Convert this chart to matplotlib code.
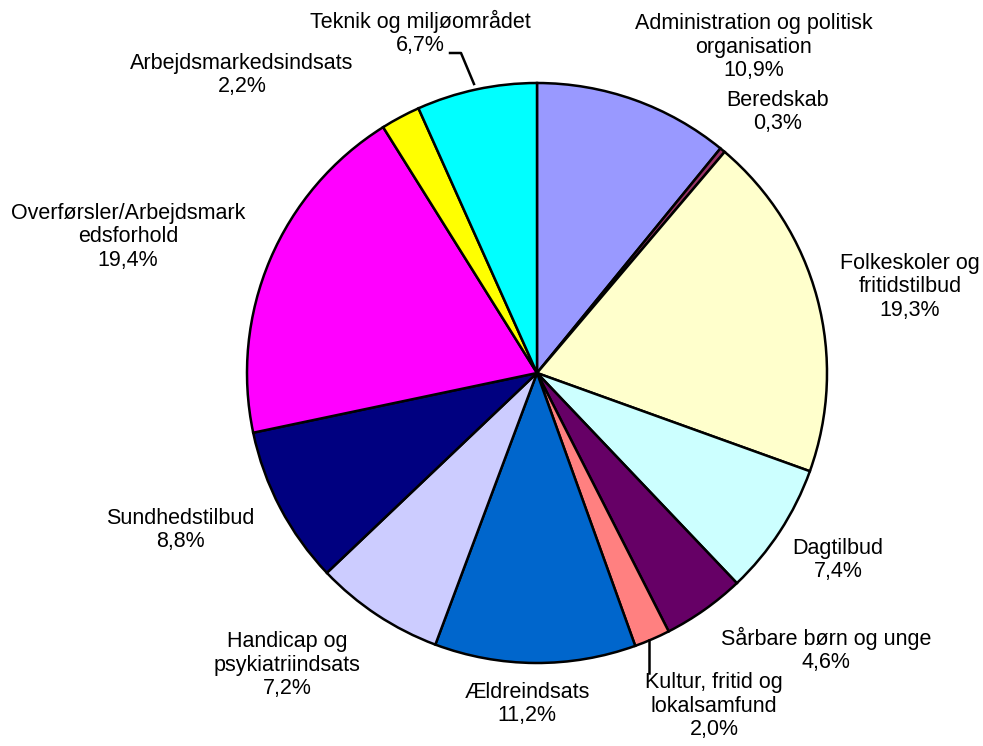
import matplotlib
matplotlib.use("Agg")
import matplotlib.pyplot as plt

labels = ["Administration og politisk\norganisation", "Beredskab", "Folkeskoler og\nfritidstilbud",
          "Dagtilbud", "Sårbare børn og unge", "Kultur, fritid og\nlokalsamfund", "Ældreindsats",
          "Handicap og\npsykiatriindsats", "Sundhedstilbud", "Overførsler/Arbejdsmark\nedsforhold",
          "Arbejdsmarkedsindsats", "Teknik og miljøområdet"]
values = [10.9, 0.3, 19.3, 7.4, 4.6, 2.0, 11.2, 7.2, 8.8, 19.4, 2.2, 6.7]
colors = ["#9999FF", "#993366", "#FFFFCC", "#CCFFFF", "#660066", "#FF8080", "#0066CC",
          "#CCCCFF", "#000080", "#FF00FF", "#FFFF00", "#00FFFF"]

# label positions in pixel coordinates (x, y from top)
label_pos = [(754, 47), (778, 112), (910, 287), (838, 560), (826, 650), (714, 706),
             (527, 704), (287, 665), (180, 530), (128, 237), (242, 75), (420, 33)]

W, H = 983, 746
fig = plt.figure(figsize=(W / 100, H / 100), dpi=100)
ax = fig.add_axes([0, 0, 1, 1])

cx, cy, r = 537, 373, 290
ax.pie(values, colors=colors, startangle=90, counterclock=False, center=(cx, H - cy),
       radius=r, wedgeprops=dict(edgecolor="black", linewidth=1.8), frame=True)
ax.set_xlim(0, W)
ax.set_ylim(0, H)
ax.set_aspect("equal")
ax.axis("off")

for lab, v, (x, y) in zip(labels, values, label_pos):
    txt = f"{lab}\n{v:.1f}%".replace(".", ",")
    ax.text(x, H - y, txt, ha="center", va="center", fontsize=15.5,
            family="Liberation Sans", linespacing=1.13)

# leader lines
ax.plot([450, 461, 474], [H - 53, H - 53, H - 84], color="black", lw=1.8)
ax.plot([649, 649], [H - 640, H - 673], color="black", lw=1.8)

fig.savefig("out.png", dpi=100)
